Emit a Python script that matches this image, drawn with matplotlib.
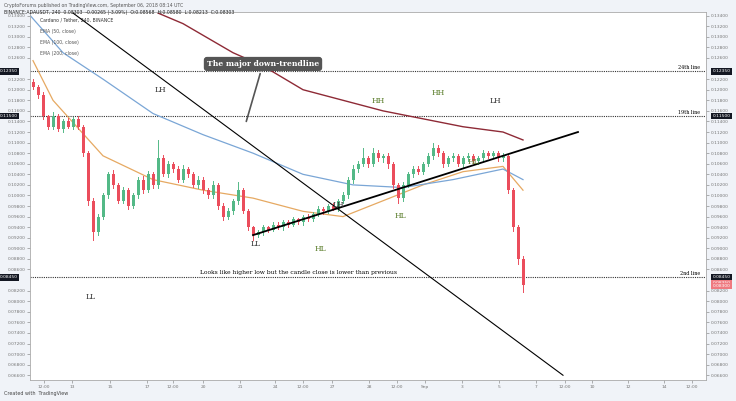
import matplotlib.pyplot as plt
import numpy as np

# closes of the 4h candles (ADA/USDT)
closes = [0.1205, 0.1190, 0.1150, 0.1130, 0.1150, 0.1125, 0.1140, 0.1130, 0.1145, 0.1130,
          0.1080, 0.0990, 0.0930, 0.0960, 0.1000, 0.1040, 0.1020, 0.0990, 0.1010, 0.0980,
          0.1000, 0.1030, 0.1010, 0.1040, 0.1020, 0.1070, 0.1040, 0.1060, 0.1050, 0.1030,
          0.1050, 0.1040, 0.1020, 0.1030, 0.1010, 0.1000, 0.1020, 0.0980, 0.0960, 0.0970,
          0.0990, 0.1010, 0.0970, 0.0940, 0.0925, 0.0930, 0.0940, 0.0935, 0.0945, 0.0940,
          0.0950, 0.0945, 0.0955, 0.0950, 0.0960, 0.0955, 0.0965, 0.0975, 0.0970, 0.0980,
          0.0975, 0.0990, 0.1000, 0.1030, 0.1050, 0.1060, 0.1070, 0.1060, 0.1080, 0.1070,
          0.1075, 0.1060, 0.1020, 0.0995, 0.1020, 0.1040, 0.1050, 0.1045, 0.1060, 0.1075,
          0.1090, 0.1080, 0.1060, 0.1070, 0.1075, 0.1060, 0.1070, 0.1075, 0.1065, 0.1070,
          0.1080, 0.1075, 0.1080, 0.1070, 0.1075, 0.1010, 0.0940, 0.0880, 0.0830]
first_open = 0.1215
# wick lengths in 0.0001 units
wick_up = [5, 4, 6, 3, 8, 4, 5, 6, 4, 5, 3, 4, 6, 5, 4, 5, 8, 3, 6, 4,
           5, 4, 6, 7, 5, 35, 6, 5, 4, 6, 7, 4, 5, 6, 4, 5, 8, 4, 5, 6,
           4, 15, 5, 4, 3, 4, 5, 3, 4, 5, 3, 4, 5, 3, 4, 5, 4, 5, 3, 4,
           5, 4, 6, 5, 8, 6, 20, 5, 10, 6, 4, 5, 4, 3, 5, 4, 6, 5, 4, 6,
           10, 5, 4, 5, 6, 4, 5, 6, 4, 5, 6, 4, 5, 4, 5, 3, 4, 5, 6]
wick_dn = [4, 5, 6, 4, 5, 4, 5, 3, 4, 5, 6, 8, 15, 5, 4, 5, 6, 4, 5, 6,
           4, 5, 6, 4, 5, 6, 4, 5, 6, 4, 5, 6, 4, 5, 6, 4, 5, 6, 7, 4,
           5, 6, 4, 5, 10, 4, 5, 4, 3, 4, 5, 4, 3, 4, 5, 4, 3, 4, 5, 4,
           3, 4, 5, 4, 6, 5, 4, 6, 5, 4, 6, 8, 6, 10, 5, 4, 6, 5, 4, 5,
           6, 5, 6, 5, 4, 5, 6, 5, 4, 5, 4, 5, 4, 5, 4, 6, 8, 10, 12]

# moving averages sampled along the picture (candle index, price)
ema50_x = [0, 4, 14, 24, 34, 44, 54, 62, 70, 78, 86, 94, 98]
ema50_y = [0.1255, 0.1180, 0.1075, 0.1030, 0.1010, 0.0995, 0.0970, 0.0960, 0.0990, 0.1020, 0.1045, 0.1055, 0.1010]
ema100_x = [-1, 6, 14, 24, 34, 44, 54, 64, 74, 84, 94, 98]
ema100_y = [0.1345, 0.1270, 0.1220, 0.1155, 0.1115, 0.1080, 0.1040, 0.1020, 0.1015, 0.1030, 0.1050, 0.1030]
ema200_x = [25, 30, 40, 46, 54, 62, 70, 78, 86, 94, 98]
ema200_y = [0.1345, 0.1325, 0.1270, 0.1245, 0.1200, 0.1180, 0.1160, 0.1145, 0.1130, 0.1120, 0.1105]

# drawn lines
down_x, down_y = [8, 106], [0.1345, 0.0660]
up_x, up_y = [44, 109], [0.0925, 0.1120]
levels = [0.1235, 0.1150, 0.0845]
level_names = ["24th line", "19th line", "2nd line"]

tick_pos = [2.2, 7.8, 15.4, 22.8, 28, 34, 41.4, 48.4, 54, 59.8, 67.2, 72.8, 78.4, 85.8, 93.2, 100.6, 106.4, 111.8, 119, 126.2, 131.8]
tick_lab = ["12:00", "13", "15", "17", "12:00", "20", "21", "24", "12:00", "27", "28", "12:00", "Sep",
            "3", "5", "7", "12:00", "10", "12", "14", "12:00"]

labels = [("LH", 25.5, 0.1195), ("LL", 11.5, 0.0805), ("LL", 44.5, 0.0905), ("HL", 57.5, 0.0895),
          ("LH", 61, 0.0978), ("HL", 73.5, 0.0958), ("HH", 69, 0.1175), ("HH", 81, 0.1190),
          ("LH", 92.5, 0.1175), ("HL", 88, 0.1060)]

bull = "#53b987"
bear = "#eb4d5c"

fig = plt.figure(figsize=(7.36, 4.01), dpi=100)
fig.patch.set_facecolor("#f0f3f8")
ax = fig.add_axes([30 / 736, 21 / 401, 676 / 736, 368 / 401])
ax.set_facecolor("white")

opens = [first_open] + closes[:-1]
for i, (o, c) in enumerate(zip(opens, closes)):
    col = bull if c >= o else bear
    hi = max(o, c) + wick_up[i] * 1e-4
    lo = min(o, c) - wick_dn[i] * 1e-4
    ax.plot([i, i], [lo, hi], color=col, lw=0.7, zorder=3)
    ax.add_patch(plt.Rectangle((i - 0.3, min(o, c)), 0.6, max(abs(c - o), 0.00005),
                               color=col, zorder=4, lw=0))

ax.plot(ema50_x, ema50_y, color="#e6a962", lw=0.9, zorder=2)
ax.plot(ema100_x, ema100_y, color="#7aa6d6", lw=0.9, zorder=2)
ax.plot(ema200_x, ema200_y, color="#8e2a36", lw=1.0, zorder=2)

ax.plot(down_x, down_y, color="black", lw=0.8, zorder=5)
ax.plot(up_x, up_y, color="black", lw=1.3, zorder=5)

for lv, nm in zip(levels, level_names):
    ax.axhline(lv, color="#333333", lw=0.8, ls=(0, (1, 1)), zorder=1)
    ax.text(133.5, lv + 0.0003, nm, fontsize=3.5, ha="right", va="bottom", family="DejaVu Serif")
    ax.text(1.01, lv, "%.5f" % lv, transform=ax.get_yaxis_transform(), fontsize=3.2, color="white",
            va="center", bbox=dict(boxstyle="square,pad=0.3", fc="#131722", ec="none"))
    ax.text(-0.045, lv, "%.5f" % lv, transform=ax.get_yaxis_transform(), fontsize=3.2, color="white",
            va="center", bbox=dict(boxstyle="square,pad=0.3", fc="#131722", ec="none"))
for pv in [0.0835, 0.0830]:
    ax.text(1.01, pv - 0.0001, "%.5f" % pv, transform=ax.get_yaxis_transform(), fontsize=3.2,
            color="white", va="center", bbox=dict(boxstyle="square,pad=0.3", fc="#ef7a80", ec="none"))

for t, x, y in labels:
    col = "#5a7d2a" if t in ("HL", "HH") else "#333333"
    ax.text(x, y, t, fontsize=5.5, color=col, ha="center", family="DejaVu Serif", zorder=6)

ax.annotate("The major down-trendline", xy=(42.5, 0.1135), xytext=(46, 0.1245),
            fontsize=5.5, color="white", weight="bold", family="DejaVu Serif", ha="center",
            bbox=dict(boxstyle="round,pad=0.4", fc="#555555", ec="none"),
            arrowprops=dict(arrowstyle="-", color="#555555", lw=1.2), zorder=7)
ax.text(53, 0.0852, "Looks like higher low but the candle close is lower than previous",
        fontsize=4.3, ha="center", family="DejaVu Serif", zorder=6)

ax.text(0.015, 0.985, "Cardano / Tether, 240, BINANCE", transform=ax.transAxes, fontsize=3.3,
        va="top", color="#333333")
for k, s in enumerate(["EMA (50, close)", "EMA (100, close)", "EMA (200, close)"]):
    ax.text(0.015, 0.955 - k * 0.03, s, transform=ax.transAxes, fontsize=3.3, va="top", color="#555555")

fig.text(0.005, 0.993, "CryptoForums published on TradingView.com, September 06, 2018 08:14 UTC",
         fontsize=3.3, va="top", color="#555555")
fig.text(0.005, 0.975, "BINANCE:ADAUSDT, 240  0.08303  -0.00265 (-3.09%)  O:0.08568  H:0.08580  L:0.08213  C:0.08303",
         fontsize=3.3, va="top", color="#222222")
fig.text(0.005, 0.012, "Created with  TradingView", fontsize=3.5, va="bottom", color="#444444")

ax.set_xlim(-0.6, 134.6)
ax.set_ylim(0.0651, 0.1347)
ax.set_xticks(tick_pos)
ax.set_xticklabels(tick_lab)
yt = [v for v in np.arange(0.066, 0.1345, 0.002) if min(abs(v - lv) for lv in levels + [0.0832]) > 0.0008]
ax.set_yticks(yt)
ax.set_yticklabels(["%.5f" % v for v in yt])
ax.tick_params(axis="both", labelsize=3.2, colors="#777777", length=2, width=0.4, pad=1.5)
ax.tick_params(axis="y", labelright=True, right=True)
for s in ax.spines.values():
    s.set_color("#aaaaaa")
    s.set_linewidth(0.6)

plt.savefig("out.png", dpi=100, facecolor=fig.get_facecolor())
